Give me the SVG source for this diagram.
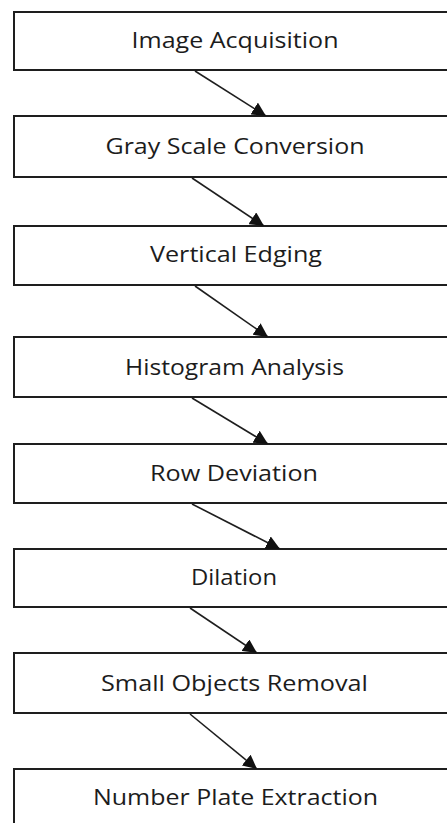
<svg xmlns="http://www.w3.org/2000/svg" width="447" height="823" viewBox="0 0 447 823">
  <style>
    .box { fill: #ffffff; stroke: #1e1e1e; stroke-width: 2; }
    .label { font-family: "Open Sans", "Noto Sans", "Liberation Sans", sans-serif; font-size: 22px; fill: #1c1c1c; text-anchor: middle; }
    .conn { stroke: #1e1e1e; stroke-width: 1.6; fill: none; marker-end: url(#arrow); }
  </style>
  <defs>
    <marker id="arrow" markerUnits="userSpaceOnUse" markerWidth="16" markerHeight="14" refX="14" refY="7" orient="auto">
      <path d="M0,0 L14,7 L0,14 Z" fill="#111111"/>
    </marker>
  </defs>
  <rect x="0" y="0" width="447" height="823" fill="#ffffff"/>

  <g id="node-acquisition">
    <rect class="box" x="14" y="12" width="440" height="58"/>
    <text class="label" x="235" y="48" textLength="207" lengthAdjust="spacingAndGlyphs">Image Acquisition</text>
  </g>
  <g id="node-grayscale">
    <rect class="box" x="14" y="116" width="440" height="61"/>
    <text class="label" x="235" y="154" textLength="259" lengthAdjust="spacingAndGlyphs">Gray Scale Conversion</text>
  </g>
  <g id="node-vertical-edging">
    <rect class="box" x="14" y="226" width="440" height="59"/>
    <text class="label" x="236" y="262" textLength="172" lengthAdjust="spacingAndGlyphs">Vertical Edging</text>
  </g>
  <g id="node-histogram">
    <rect class="box" x="14" y="337" width="440" height="60"/>
    <text class="label" x="234.5" y="375" textLength="219" lengthAdjust="spacingAndGlyphs">Histogram Analysis</text>
  </g>
  <g id="node-row-deviation">
    <rect class="box" x="14" y="444" width="440" height="59"/>
    <text class="label" x="234" y="481" textLength="168" lengthAdjust="spacingAndGlyphs">Row Deviation</text>
  </g>
  <g id="node-dilation">
    <rect class="box" x="14" y="549" width="440" height="58"/>
    <text class="label" x="234" y="585" textLength="86" lengthAdjust="spacingAndGlyphs">Dilation</text>
  </g>
  <g id="node-small-objects">
    <rect class="box" x="14" y="653" width="440" height="60"/>
    <text class="label" x="234.5" y="691" textLength="267" lengthAdjust="spacingAndGlyphs">Small Objects Removal</text>
  </g>
  <g id="node-plate-extraction">
    <rect class="box" x="14" y="769" width="440" height="70"/>
    <text class="label" x="235.5" y="805" textLength="285" lengthAdjust="spacingAndGlyphs">Number Plate Extraction</text>
  </g>

  <g id="connectors">
    <line class="conn" x1="195" y1="71" x2="266" y2="116"/>
    <line class="conn" x1="192" y1="178" x2="264" y2="226"/>
    <line class="conn" x1="195" y1="286" x2="268" y2="337"/>
    <line class="conn" x1="192" y1="398" x2="268" y2="444"/>
    <line class="conn" x1="192" y1="504" x2="280" y2="549"/>
    <line class="conn" x1="190" y1="608" x2="257" y2="653"/>
    <line class="conn" x1="190" y1="714" x2="257" y2="769"/>
  </g>
</svg>
